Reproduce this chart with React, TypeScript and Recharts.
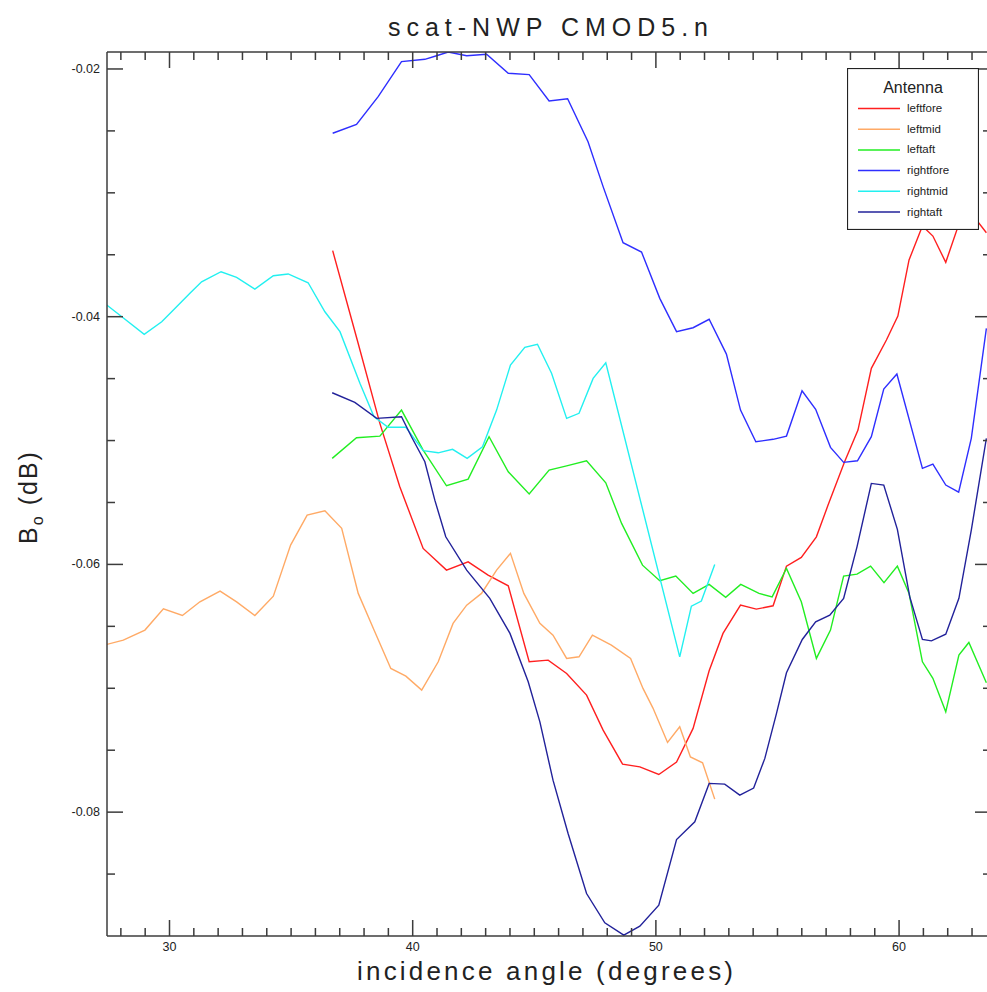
import React from "react";
import {Legend, Line, LineChart, XAxis, YAxis} from "recharts";

// values: [incidence angle (deg), B0 (dB)]
const leftfore: [number, number][] = [
    [36.71, -0.03467], [37.72, -0.04188], [38.65, -0.04861], [39.47, -0.05373], [40.43, -0.05871],
    [41.39, -0.06046], [42.28, -0.05979], [43.10, -0.06086], [43.93, -0.06173], [44.79, -0.06785],
    [45.57, -0.06773], [46.33, -0.06880], [47.15, -0.07055], [47.83, -0.07338], [48.63, -0.07613],
    [49.34, -0.07634], [50.12, -0.07696], [50.85, -0.07596], [51.53, -0.07324], [52.19, -0.06859],
    [52.76, -0.06557], [53.48, -0.06329], [54.13, -0.06361], [54.82, -0.06334], [55.37, -0.06014],
    [55.98, -0.05943], [56.60, -0.05777], [57.08, -0.05521], [57.76, -0.05171], [58.31, -0.04915],
    [58.86, -0.04417], [59.48, -0.04188], [59.95, -0.03995], [60.41, -0.03542], [60.96, -0.03268],
    [61.39, -0.03349], [61.92, -0.03561], [62.42, -0.03274], [62.90, -0.03147], [63.59, -0.03322],
];

const leftmid: [number, number][] = [
    [27.42, -0.06646], [28.10, -0.06611], [28.99, -0.06530], [29.75, -0.06358], [30.53, -0.06412],
    [31.25, -0.06302], [32.08, -0.06215], [32.76, -0.06302], [33.51, -0.06412], [34.27, -0.06256],
    [34.98, -0.05844], [35.66, -0.05602], [36.39, -0.05567], [37.08, -0.05709], [37.76, -0.06234],
    [38.41, -0.06530], [39.10, -0.06840], [39.72, -0.06902], [40.37, -0.07015], [41.05, -0.06786],
    [41.66, -0.06476], [42.22, -0.06329], [42.83, -0.06234], [43.45, -0.06046], [44.02, -0.05911],
    [44.57, -0.06234], [45.23, -0.06476], [45.77, -0.06571], [46.33, -0.06759], [46.84, -0.06746],
    [47.39, -0.06571], [48.17, -0.06652], [48.96, -0.06759], [49.47, -0.07001], [49.88, -0.07160],
    [50.48, -0.07437], [50.98, -0.07311], [51.42, -0.07554], [51.92, -0.07602], [52.42, -0.07895],
];

const leftaft: [number, number][] = [
    [36.69, -0.05144], [37.69, -0.04977], [38.65, -0.04964], [39.54, -0.04754], [40.43, -0.05077],
    [41.39, -0.05365], [42.28, -0.05311], [43.14, -0.04969], [43.93, -0.05252], [44.79, -0.05432],
    [45.61, -0.05238], [46.33, -0.05204], [47.15, -0.05163], [47.94, -0.05341], [48.59, -0.05669],
    [49.45, -0.06006], [50.16, -0.06132], [50.82, -0.06094], [51.53, -0.06234], [52.19, -0.06161],
    [52.87, -0.06266], [53.49, -0.06161], [54.24, -0.06234], [54.78, -0.06262], [55.37, -0.06032],
    [55.98, -0.06302], [56.60, -0.06759], [57.18, -0.06530], [57.72, -0.06094], [58.27, -0.06078],
    [58.83, -0.06014], [59.38, -0.06148], [59.93, -0.06014], [60.41, -0.06234], [60.96, -0.06786],
    [61.39, -0.06920], [61.92, -0.07190], [62.46, -0.06732], [62.87, -0.06630], [63.59, -0.06956],
];

const rightfore: [number, number][] = [
    [36.71, -0.02519], [37.69, -0.02447], [38.58, -0.02224], [39.54, -0.01941], [40.50, -0.01922],
    [40.98, -0.01893], [41.46, -0.01863], [42.22, -0.01893], [43.04, -0.01881], [43.93, -0.02035],
    [44.79, -0.02046], [45.61, -0.02258], [46.37, -0.02240], [47.21, -0.02587], [47.83, -0.02950],
    [48.65, -0.03403], [49.41, -0.03478], [50.16, -0.03852], [50.85, -0.04121], [51.53, -0.04089],
    [52.19, -0.04021], [52.90, -0.04302], [53.48, -0.04754], [54.11, -0.05010], [54.82, -0.04990],
    [55.37, -0.04964], [56.01, -0.04598], [56.57, -0.04748], [57.18, -0.05055], [57.72, -0.05176],
    [58.29, -0.05163], [58.86, -0.04969], [59.37, -0.04584], [59.91, -0.04463], [60.96, -0.05225],
    [61.39, -0.05190], [61.92, -0.05359], [62.45, -0.05416], [62.97, -0.04982], [63.59, -0.04094],
];

const rightmid: [number, number][] = [
    [27.42, -0.03906], [28.04, -0.04000], [28.96, -0.04142], [29.68, -0.04041], [30.16, -0.03946],
    [30.84, -0.03811], [31.32, -0.03718], [32.12, -0.03637], [32.76, -0.03682], [33.51, -0.03777],
    [34.27, -0.03669], [34.88, -0.03655], [35.70, -0.03726], [36.39, -0.03960], [37.01, -0.04121],
    [37.83, -0.04538], [38.41, -0.04808], [38.99, -0.04893], [39.72, -0.04893], [40.43, -0.05082],
    [41.05, -0.05099], [41.64, -0.05071], [42.24, -0.05144], [42.87, -0.05050], [43.45, -0.04754],
    [44.02, -0.04390], [44.61, -0.04247], [45.13, -0.04223], [45.71, -0.04457], [46.33, -0.04821],
    [46.84, -0.04780], [47.42, -0.04498], [47.94, -0.04372], [50.98, -0.06746], [51.46, -0.06337],
    [51.87, -0.06296], [52.42, -0.06000],
];

const rightaft: [number, number][] = [
    [36.69, -0.04614], [37.62, -0.04692], [38.52, -0.04821], [39.54, -0.04808], [39.95, -0.04969],
    [40.50, -0.05171], [40.91, -0.05481], [41.36, -0.05777], [42.22, -0.06046], [43.17, -0.06274],
    [44.00, -0.06557], [44.75, -0.06948], [45.23, -0.07271], [45.77, -0.07742], [46.39, -0.08172],
    [47.15, -0.08657], [47.90, -0.08894], [48.68, -0.08993], [49.34, -0.08921], [50.12, -0.08751],
    [50.85, -0.08221], [51.60, -0.08078], [52.19, -0.07768], [52.83, -0.07774], [53.45, -0.07863],
    [54.02, -0.07806], [54.48, -0.07566], [54.96, -0.07203], [55.37, -0.06875], [56.02, -0.06606],
    [56.57, -0.06463], [57.15, -0.06409], [57.72, -0.06274], [58.27, -0.05858], [58.86, -0.05346],
    [59.37, -0.05359], [59.93, -0.05717], [60.44, -0.06262], [60.96, -0.06606], [61.33, -0.06617],
    [61.92, -0.06563], [62.46, -0.06274], [62.97, -0.05723], [63.59, -0.04982],
];

const antennas = ["leftfore", "leftmid", "leftaft", "rightfore", "rightmid", "rightaft"];
const colors = ["#ff1f1f", "#ffaa66", "#22ee22", "#2e2eff", "#22f0f0", "#22229a"];
const seriesValues = [leftfore, leftmid, leftaft, rightfore, rightmid, rightaft];

const xTicks = [28, 29, 30, 31, 32, 33, 34, 35, 36, 37, 38, 39, 40, 41, 42, 43, 44, 45, 46, 47,
    48, 49, 50, 51, 52, 53, 54, 55, 56, 57, 58, 59, 60, 61, 62, 63];
const xLabels = [30, 40, 50, 60];
const yTicks = [-0.085, -0.08, -0.075, -0.07, -0.065, -0.06, -0.055, -0.05, -0.045, -0.04,
    -0.035, -0.03, -0.025, -0.02];
const yLabels = [-0.08, -0.06, -0.04, -0.02];

const axisColor = "#3c3c3c";
const font = "'Liberation Sans', Arial, sans-serif";

const isLabel = (list: number[], v: number) => list.some((l) => Math.abs(l - v) < 1e-7);

// tick marks point into the plot, long ones at labelled values
const BottomTick = (props: any) => {
    const {x, y, payload} = props;
    const major = isLabel(xLabels, payload.value);
    const len = major ? 16 : 8;
    return (
        <g>
            <rect x={x - 0.75} y={y - len} width={1.5} height={len} fill={axisColor}/>
            {major && <text x={x} y={y + 15} textAnchor="middle" fontSize={12.5} fontFamily={font} fill="#222">{payload.value}</text>}
        </g>
    );
};

const TopTick = (props: any) => {
    const {x, y, payload} = props;
    const len = isLabel(xLabels, payload.value) ? 16 : 8;
    return <rect x={x - 0.75} y={y} width={1.5} height={len} fill={axisColor}/>;
};

const LeftTick = (props: any) => {
    const {x, y, payload} = props;
    const major = isLabel(yLabels, payload.value);
    const len = major ? 16 : 8;
    return (
        <g>
            <rect x={x} y={y - 0.75} width={len} height={1.5} fill={axisColor}/>
            {major && <text x={x - 7} y={y + 4} textAnchor="end" fontSize={12.5} fontFamily={font} fill="#222">{payload.value.toFixed(2)}</text>}
        </g>
    );
};

const RightTick = (props: any) => {
    const {x, y, payload} = props;
    const len = isLabel(yLabels, payload.value) ? 16 : 8;
    return <rect x={x - len} y={y - 0.75} width={len} height={1.5} fill={axisColor}/>;
};

const AntennaLegend = (props: any) => {
    const payload = [...(props.payload || [])].sort(
        (a: any, b: any) => antennas.indexOf(a.value) - antennas.indexOf(b.value));
    return (
        <svg width={132} height={162} style={{display: "block"}}>
            <rect x={0.5} y={0.5} width={131} height={161} fill="#fff" stroke="#222" strokeWidth={1.2}/>
            <text x={66} y={25} textAnchor="middle" fontSize={16} fontFamily={font} fill="#222">Antenna</text>
            {payload.map((entry: any, i: number) => (
                <g key={entry.value}>
                    <line x1={11} y1={40.5 + i * 20.7} x2={53} y2={40.5 + i * 20.7} stroke={entry.color} strokeWidth={1.5}/>
                    <text x={60} y={44 + i * 20.7} fontSize={11.5} fontFamily={font} fill="#222">{entry.value}</text>
                </g>
            ))}
        </svg>
    );
};

const App: React.FunctionComponent = () => {
    return (
        <div style={{position: "absolute", left: 0, top: 0, width: 987, height: 992, overflow: "hidden", background: "#fff"}}>
            <LineChart width={995} height={992} margin={{top: 51, left: 106, right: 3, bottom: 55}}>
                <XAxis xAxisId={0} type="number" dataKey="angle" domain={[27.43, 63.78]} allowDataOverflow
                       ticks={xTicks} interval={0} tickSize={0} tickMargin={0} height={1}
                       tick={<BottomTick/>} axisLine={{stroke: axisColor, strokeWidth: 1.5}}
                       label={{
                           content: () => (
                               <text x={545} y={980} textAnchor="middle" fontSize={26}
                                     fontFamily={font} fill="#222" textLength={376} lengthAdjust="spacing">
                                   incidence angle (degrees)
                               </text>
                           ),
                       }}/>
                <XAxis xAxisId="top" orientation="top" type="number" dataKey="angle" domain={[27.43, 63.78]} allowDataOverflow
                       ticks={xTicks} interval={0} tickSize={0} tickMargin={0} height={1}
                       tick={<TopTick/>} axisLine={{stroke: axisColor, strokeWidth: 1.5}}
                       label={{
                           content: () => (
                               <text x={548} y={36} textAnchor="middle" fontSize={25} fontFamily={font} fill="#222"
                                     textLength={320} lengthAdjust="spacing">
                                   scat-NWP CMOD5.n
                               </text>
                           ),
                       }}/>
                <YAxis yAxisId={0} type="number" domain={[-0.09, -0.01863]} allowDataOverflow
                       ticks={yTicks} interval={0} tickSize={0} tickMargin={0} width={1}
                       tick={<LeftTick/>} axisLine={{stroke: axisColor, strokeWidth: 1.5}}
                       label={{
                           content: () => (
                               <text transform="translate(37 497) rotate(-90)" textAnchor="middle" fontSize={25}
                                     fontFamily={font} fill="#222" letterSpacing={2}>
                                   B<tspan fontSize={16} dy={6}>o</tspan><tspan dy={-6}> (dB)</tspan>
                               </text>
                           ),
                       }}/>
                <YAxis yAxisId="right" orientation="right" type="number" domain={[-0.09, -0.01863]} allowDataOverflow
                       ticks={yTicks} interval={0} tickSize={0} tickMargin={0} width={1}
                       tick={<RightTick/>} axisLine={{stroke: axisColor, strokeWidth: 1.5}}/>
                {antennas.map((name, i) => (
                    <Line key={name}
                          name={name}
                          data={seriesValues[i].map(([angle, b0]) => ({angle, b0}))}
                          dataKey="b0"
                          stroke={colors[i]}
                          strokeWidth={1.4}
                          type="linear"
                          dot={false}
                          isAnimationActive={false}/>
                ))}
                <Legend layout="vertical" align="center" verticalAlign="middle"
                        wrapperStyle={{left: 847, top: 68, width: 132, height: 162}}
                        content={<AntennaLegend/>}/>
            </LineChart>
        </div>
    );
};

export default App;
